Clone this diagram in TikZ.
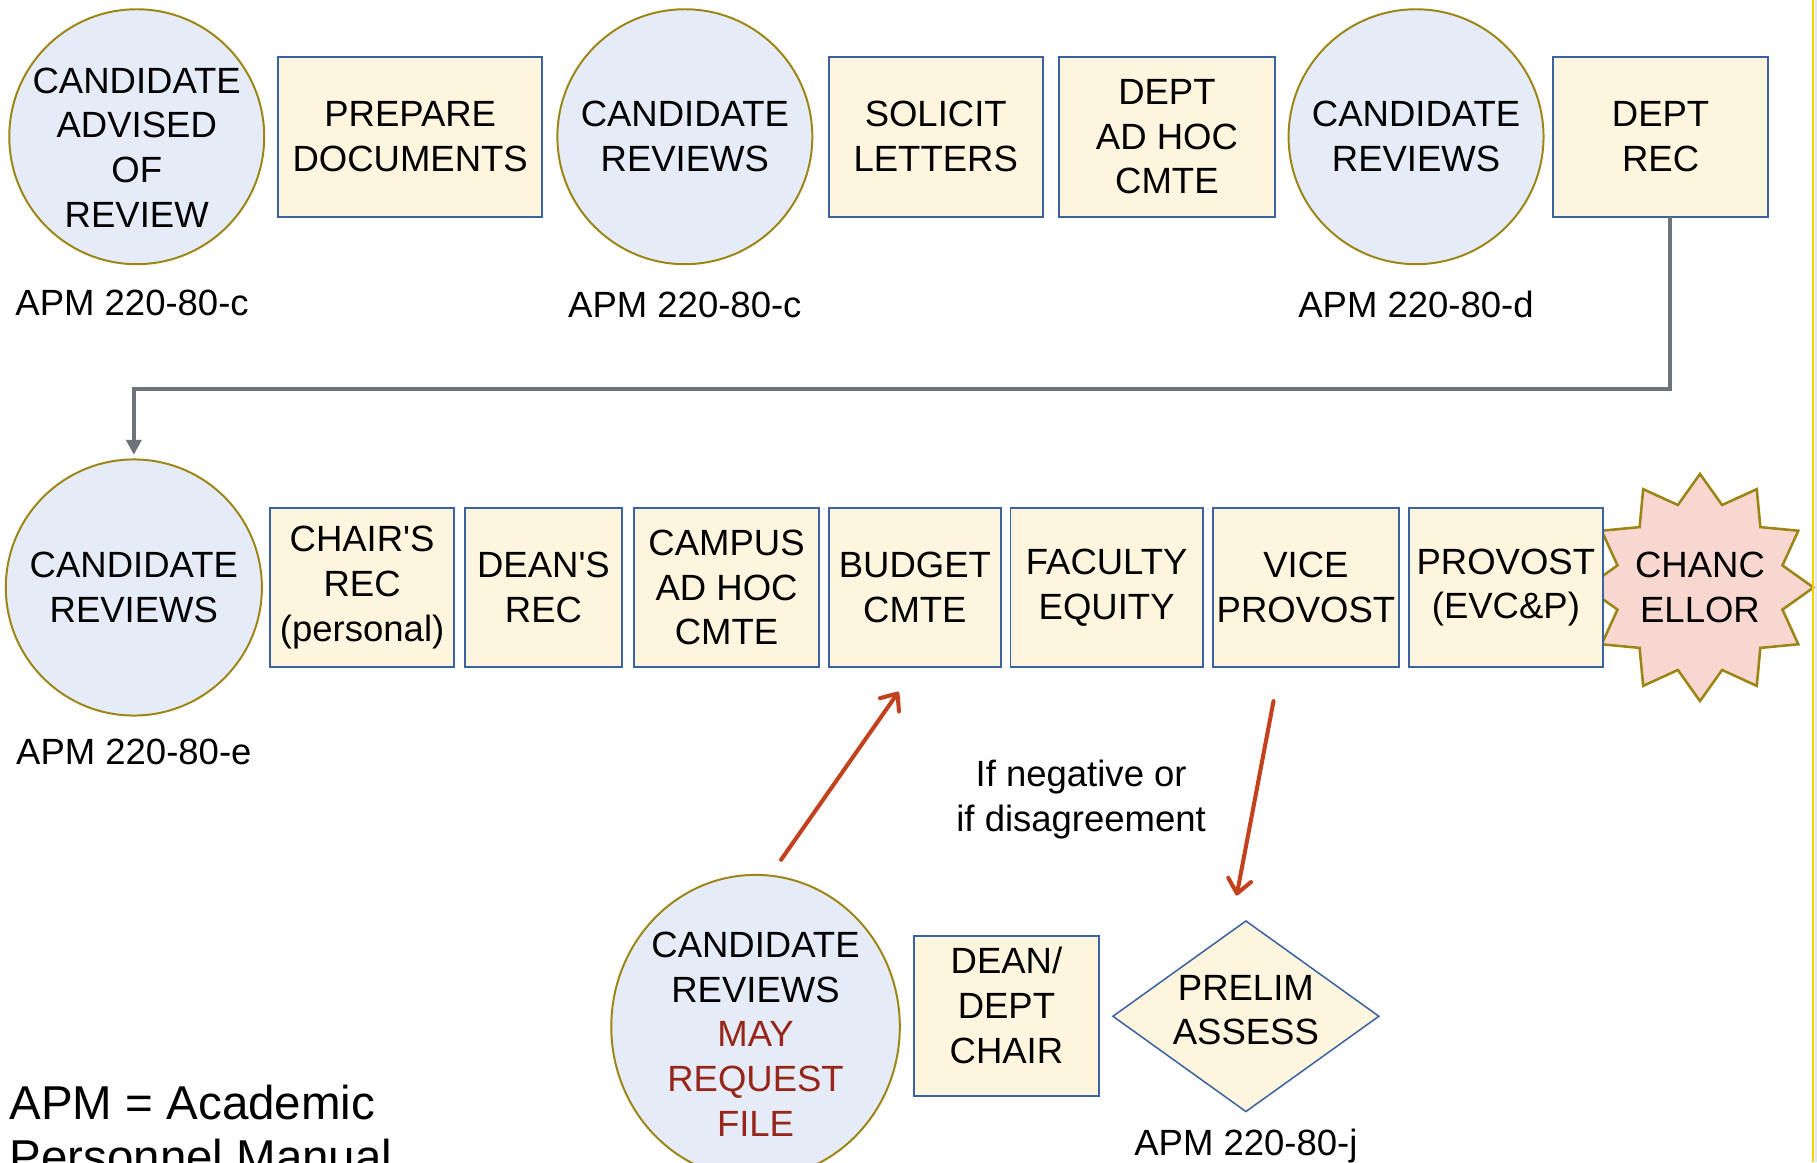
\documentclass[tikz,border=0pt]{standalone}
\usepackage{fontspec}
\setmainfont{Liberation Sans}
\usetikzlibrary{positioning,shapes.geometric,arrows.meta,calc}

\definecolor{candfill}{RGB}{230,236,247}
\definecolor{canddraw}{RGB}{156,133,20}
\definecolor{boxfill}{RGB}{254,245,222}
\definecolor{boxdraw}{RGB}{58,98,160}
\definecolor{chancfill}{RGB}{248,215,208}
\definecolor{mayred}{RGB}{150,38,25}
\definecolor{arrowred}{RGB}{196,65,30}
\definecolor{linkgray}{RGB}{110,115,122}
\definecolor{edgeyellow}{RGB}{255,204,0}

\tikzset{
  cand/.style={draw=canddraw, fill=candfill, ellipse, line width=1.7pt, minimum width=220pt, minimum height=220pt, inner sep=-14pt, outer sep=0pt, align=center},
  stepbox/.style={draw=boxdraw, fill=boxfill, rectangle, line width=1.7pt, minimum height=138pt, inner sep=2pt, outer sep=0pt, align=center},
  chanc/.style={draw=canddraw, fill=chancfill, star, star points=12, star point ratio=1.33, minimum size=196pt, line width=2.2pt, inner sep=-12pt, align=center},
  assess/.style={draw=boxdraw, fill=boxfill, diamond, aspect=1.4, minimum width=230pt, minimum height=165pt, line width=1.3pt, inner sep=0pt, align=center},
  apm/.style={inner sep=0pt, text height=23pt, text depth=0pt},
  redarrow/.style={-{Straight Barb[length=12pt,width=20pt,round]}, arrowred, line width=3.5pt, line cap=round},
  linkarrow/.style={-{Triangle[length=13pt,width=13pt]}, linkgray, line width=3.5pt}
}

\begin{document}
\begin{tikzpicture}[x=1pt, y=1pt, font=\fontsize{31.5}{38.5}\selectfont]
  \fill[white] (0,0) rectangle (1568,1003);
  \useasboundingbox (0,0) rectangle (1568,1003);
  \clip (0,0) rectangle (1568,1003);

  \node[cand, text height=156pt] (c1) at (118,885) {CANDIDATE\\ADVISED\\OF\\REVIEW};
  \node[stepbox, minimum width=228pt, right=12pt of c1] (prep) {PREPARE\\DOCUMENTS};
  \node[cand, right=13pt of prep] (c2) {CANDIDATE\\REVIEWS};
  \node[stepbox, minimum width=185pt, right=14pt of c2] (solicit) {SOLICIT\\LETTERS};
  \node[stepbox, minimum width=186pt, right=14pt of solicit] (adhoc) {DEPT\\AD HOC\\CMTE};
  \node[cand, right=12pt of adhoc] (c3) {CANDIDATE\\REVIEWS};
  \node[stepbox, minimum width=186pt, right=8pt of c3] (deptrec) {DEPT\\REC};

  \node[apm, below=21pt of c1, xshift=-4pt] (apmc) {APM 220-80-c};
  \node[apm, below=23pt of c2] (apmc2) {APM 220-80-c};
  \node[apm, below=23pt of c3] (apmd) {APM 220-80-d};

  \node[chanc] (chancellor) at (1467,496) {CHANC\\ELLOR};
  \node[cand, minimum width=221pt, minimum height=221pt] (c4) at (115.5,496) {CANDIDATE\\REVIEWS};
  \node[stepbox, minimum width=159pt, right=7pt of c4] (chair) {CHAIR\textquotesingle S\\REC\\(personal)};
  \node[stepbox, minimum width=136pt, right=9pt of chair] (dean) {DEAN\textquotesingle S\\REC};
  \node[stepbox, minimum width=160pt, right=10pt of dean] (campus) {CAMPUS\\AD HOC\\CMTE};
  \node[stepbox, minimum width=149pt, right=8pt of campus] (budget) {BUDGET\\CMTE};
  \node[stepbox, minimum width=166pt, right=8pt of budget] (faculty) {FACULTY\\EQUITY};
  \node[stepbox, minimum width=160pt, right=9pt of faculty] (vice) {VICE\\PROVOST};
  \node[stepbox, minimum width=167pt, right=9pt of vice] (provost) {PROVOST\\(EVC\&P)};
  \node[apm, below=19pt of c4] (apme) {APM 220-80-e};

  \node[cand, minimum width=249pt, minimum height=262pt, text height=189pt] (c5) at (652,117) {CANDIDATE\\REVIEWS\\\textcolor{mayred}{MAY}\\\textcolor{mayred}{REQUEST}\\\textcolor{mayred}{FILE}};
  \node[stepbox, minimum width=160pt, right=12pt of c5, yshift=9pt, text depth=19pt] (deanchair) {DEAN/\\DEPT\\CHAIR};
  \node[assess, right=11pt of deanchair, text depth=11pt] (prelim) {PRELIM\\ASSESS};
  \node[apm, below=14pt of prelim] (apmj) {APM 220-80-j};

  \node[align=center, inner sep=0pt] (ifneg) at (933,313) {If negative or\\if disagreement};
  \node[anchor=north west, align=left, inner sep=0pt, font=\fontsize{41}{47}\selectfont] (apmnote) at (8,67) {APM = Academic\\Personnel Manual};

  \draw[linkarrow] ([xshift=8pt]deptrec.south) -- ++(0,-149) -| ([yshift=4pt]c4.north);
  \draw[redarrow] ($(c5.north)+(22,13)$) -- ($(budget.south)+(-14,-21)$);
  \draw[redarrow] ($(vice.south)+(-28,-29)$) -- ($(prelim.north)+(-8,21)$);

  \draw[gray!20, line width=1.5pt] (1566.8,0) -- (1566.8,1003);
  \draw[edgeyellow, line width=1.8pt] (1564.6,0) -- (1564.6,1003);
\end{tikzpicture}
\end{document}
